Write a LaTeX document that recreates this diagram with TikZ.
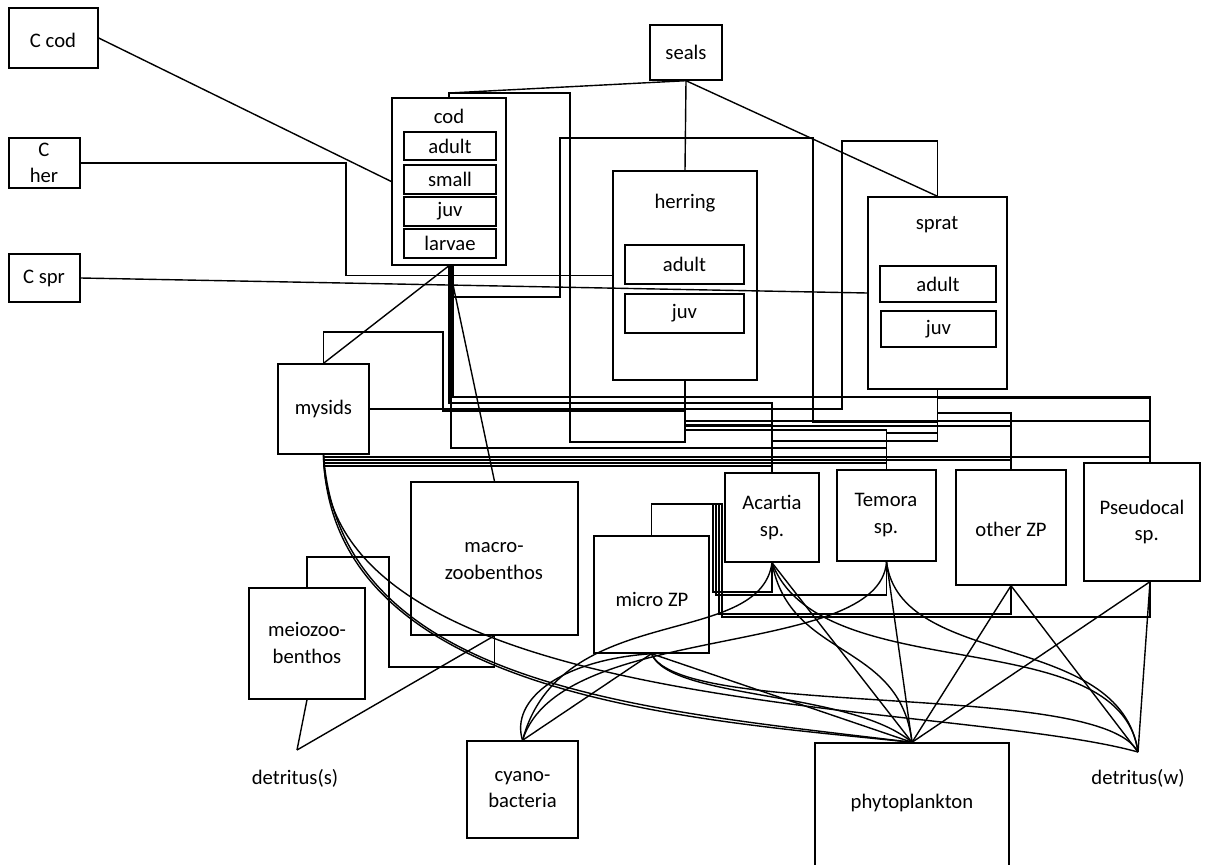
\documentclass[tikz,border=0pt]{standalone}
\usepackage{fontspec}
\setmainfont{Carlito}
\usetikzlibrary{fit,calc}
\begin{document}
\begin{tikzpicture}[x=0.75pt,y=-0.75pt,
  bx/.style={draw, line width=1.05pt, inner sep=0pt},
  tx/.style={inner sep=1pt, align=center, font=\fontsize{15.5}{20}\selectfont},
  ln/.style={line width=1.05pt}]
\fill[white] (0,0) rectangle (1209,864);
\useasboundingbox (0,0) rectangle (1209,864);
% boxes
\node[bx, fit={(9,8)(98,68)}] (ccod) {};
\node[bx, fit={(9,138)(80,188)}] (cher) {};
\node[bx, fit={(9,254)(80,302)}] (cspr) {};
\node[bx, fit={(650,25)(722,80)}] (seals) {};
\node[bx, fit={(392,98)(506,265)}] (cod) {};
\node[bx, fit={(404,132)(496,160)}] (codA) {};
\node[bx, fit={(404,165)(496,194)}] (codS) {};
\node[bx, fit={(404,197)(496,226)}] (codJ) {};
\node[bx, fit={(404,229)(496,258)}] (codL) {};
\node[bx, fit={(613,171)(757,380)}] (herring) {};
\node[bx, fit={(625,245)(744,284)}] (herA) {};
\node[bx, fit={(625,294)(744,333)}] (herJ) {};
\node[bx, fit={(868,197)(1007,389)}] (sprat) {};
\node[bx, fit={(880,266)(996,302)}] (sprA) {};
\node[bx, fit={(881,311)(996,347)}] (sprJ) {};
\node[bx, fit={(278,364)(369,454)}] (mysids) {};
\node[bx, fit={(411,482)(578,635)}] (macro) {};
\node[bx, fit={(249,588)(365,699)}] (meio) {};
\node[bx, fit={(594,536)(709,653)}] (micro) {};
\node[bx, fit={(725,473)(819,562)}] (acartia) {};
\node[bx, fit={(837,470)(936,561)}] (temora) {};
\node[bx, fit={(956,470)(1066,585)}] (other) {};
\node[bx, fit={(1084,463)(1200,581)}] (pseu) {};
\node[bx, fit={(467,741)(578,838)}] (cyano) {};
\node[bx, fit={(815,743)(1009,866)}] (phyto) {};
% texts
\node[tx] (ccodT) at (53,40) {C cod};
\node[tx] (cherT) at (44,163) {C\\her};
\node[tx] (csprT) at (44,278) {C spr};
\node[tx] (sealsT) at (686,52) {seals};
\node[tx] (codT) at (449,116) {cod};
\node[tx] (codAT) at (codA.center) {adult};
\node[tx] (codST) at (codS.center) {small};
\node[tx] (codJT) at (codJ.center) {juv};
\node[tx] (codLT) at (codL.center) {larvae};
\node[tx] (herT) at (685,203) {herring};
\node[tx] (herAT) at (herA.center) {adult};
\node[tx] (herJT) at (herJ.center) {juv};
\node[tx] (sprT) at (937,225) {sprat};
\node[tx] (sprAT) at (sprA.center) {adult};
\node[tx] (sprJT) at (sprJ.center) {juv};
\node[tx] (mysT) at (mysids.center) {mysids};
\node[tx] (macT) at (494,561) {macro-\\zoobenthos};
\node[tx] (meiT) at (307,643) {meiozoo-\\benthos};
\node[tx] (micT) at (652,599) {micro ZP};
\node[tx] (acaT) at (acartia.center) {Acartia\\sp.};
\node[tx] (temT) at (886,515) {Temora\\sp.};
\node[tx] (othT) at (1011,529) {other ZP};
\node[tx] (pseT) at (1142,522) {Pseudocal\\\ \ sp.};
\node[tx] (cyaT) at (cyano.center) {cyano-\\bacteria};
\node[tx] (phyT) at (912,803) {phytoplankton};
\node[tx] (dsT) at (295,778) {detritus(s)};
\node[tx] (dwT) at (1138,778) {detritus(w)};
\coordinate (ds) at (297,750);
\coordinate (dw) at (1138,752);
\coordinate (pN) at ([xshift=6pt]pseu.north);
\coordinate (pS) at ([xshift=6pt]pseu.south);
% top connectors
\draw[ln] (ccod.east) -- (cod.west);
\draw[ln] (cher.east) -- (346,163) -- (346,275.5) -- (herring.west);
\draw[ln] (cspr.east) -- (sprat.west);
\draw[ln] (seals.south) -- (449,93) -- (cod.north);
\draw[ln] (seals.south) -- (herring.north);
\draw[ln] (seals.south) -- (sprat.north);
% cod
\draw[ln] (cod.south) |- (772,403) -- (acartia.north);
\draw[ln] ([xshift=1.5pt]cod.south) |- (886.5,448) -- (temora.north);
\draw[ln] ([xshift=3pt]cod.south) |- (1150,397) -- (pN);
\draw[ln] ([xshift=1.5pt]cod.south) -- (451,297) -- (560,297) -- (560,138) -- (813,138) -- (813,422) -| (sprat.south);
\draw[ln] (cod.north) -- (449,93) -- (570,93) -- (570,442) -| (herring.south);
\draw[ln] (cod.south) -- (mysids.north);
\draw[ln] (cod.south) -- (macro.north);
% herring
\draw[ln] (herring.south) |- (1150,421) -- (pN);
\draw[ln] (herring.south) |- (1011,426) -- (other.north);
\draw[ln] (herring.south) |- (886.5,430) -- (temora.north);
\draw[ln] (herring.south) |- (772,425) -- (acartia.north);
% sprat
\draw[ln] (sprat.south) |- (1150,398) -- (pN);
\draw[ln] (sprat.south) |- (1011,413) -- (other.north);
\draw[ln] (sprat.south) |- (886.5,433) -- (temora.north);
\draw[ln] (sprat.south) |- (772,441) -- (acartia.north);
% mysids
\draw[ln] (mysids.south) |- (1150,457) -- (pN);
\draw[ln] (mysids.south) |- (1011,460) -- (other.north);
\draw[ln] (mysids.south) |- (886.5,463) -- (temora.north);
\draw[ln] (mysids.south) |- (772,466) -- (acartia.north);
\draw[ln] (mysids.east) -- (842,409) -- (842,141) -| (sprat.north);
\draw[ln] (mysids.north) -- (323.5,332) -- (443,332) -- (443,411) -| (herring.south);
% micro ZP
\draw[ln] (micro.north) |- (713,504) -- (713,592) -| (acartia.south);
\draw[ln] (micro.north) |- (716,504) -- (716,595) -| (temora.south);
\draw[ln] (micro.north) |- (719,504) -- (719,614) -| (other.south);
\draw[ln] (micro.north) |- (722,504) -- (722,617) -| (pS);
% benthos
\draw[ln] (meio.north) |- (389,557) -- (389,667) -| (macro.south);
\draw[ln] (ds) -- (meio.south);
\draw[ln] (ds) -- (macro.south);
% bottom
\draw[ln] (other.south) -- (phyto.north);
\draw[ln] (other.south) -- (dw);
\draw[ln] (pS) -- (phyto.north);
\draw[ln] (pS) -- (dw);
\draw[ln] (temora.south) -- (phyto.north);
\draw[ln] (acartia.south) -- (phyto.north);
\draw[ln] (micro.south) -- (phyto.north);
\draw[ln] (micro.south) -- (cyano.north);
\draw[ln] (acartia.south) .. controls (790,660) and (900,640) .. (phyto.north);
\draw[ln] (acartia.south) .. controls (820,690) and (1120,620) .. (dw);
\draw[ln] (acartia.south) .. controls (760,650) and (560,600) .. (cyano.north);
\draw[ln] (temora.south) .. controls (900,670) and (1120,630) .. (dw);
\draw[ln] (temora.south) .. controls (880,660) and (560,620) .. (cyano.north);
\draw[ln] (micro.south) .. controls (670,700) and (850,690) .. (phyto.north);
\draw[ln] (micro.south) .. controls (680,720) and (1100,680) .. (dw);
\draw[ln] (micro.south) .. controls (560,660) and (510,700) .. (cyano.north);
\draw[ln] (mysids.south) .. controls (330,700) and (700,720) .. (phyto.north);
\draw[ln] (mysids.south) .. controls (325,720) and (950,700) .. (dw);
\draw[ln] (mysids.south) .. controls (340,690) and (650,710) .. (phyto.north);
\end{tikzpicture}
\end{document}
